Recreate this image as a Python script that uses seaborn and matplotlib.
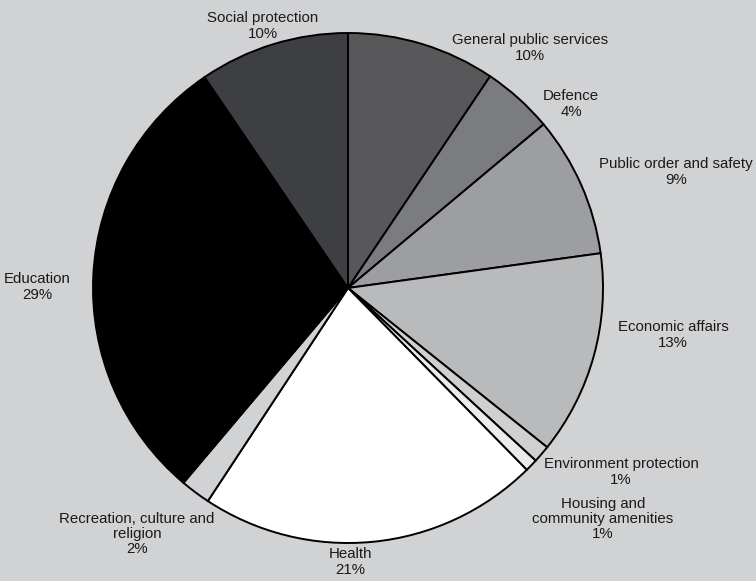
import matplotlib
matplotlib.use("Agg")
import matplotlib.pyplot as plt
import seaborn as sns

# spending shares by function, clockwise from 12 o'clock
categories = ["General public services", "Defence", "Public order and safety",
              "Economic affairs", "Environment protection",
              "Housing and\ncommunity amenities", "Health",
              "Recreation, culture and\nreligion", "Education", "Social protection"]
shares = [9.4, 4.5, 8.9, 12.9, 1.1, 0.8, 21.6, 1.9, 29.3, 9.5]
pct_labels = ["10%", "4%", "9%", "13%", "1%", "1%", "21%", "2%", "29%", "10%"]

colors = ["#58585b", "#7b7c7f", "#9d9ea1", "#b9babc", "#cfd0d2",
          "#ebebec", "#ffffff", "#d1d2d4", "#000000", "#3e3f43"]
# label anchor points in pixels (x, y from top)
label_pos = [(530, 48), (571, 104), (676, 172), (673, 335), (621, 472),
             (603, 519), (350, 562), (137, 534), (37, 287), (263, 26)]

bg = "#d1d2d4"
sns.set_style("white")
plt.rcParams["font.family"] = ["Liberation Sans", "DejaVu Sans"]

W, H = 756, 581
fig = plt.figure(figsize=(W / 100, H / 100), dpi=100, facecolor=bg)
ax = fig.add_axes([0, 0, 1, 1])
ax.set_facecolor(bg)

ax.pie(shares, colors=colors, startangle=90, counterclock=False,
       center=(348, H - 288), radius=255, frame=True,
       wedgeprops=dict(edgecolor="black", linewidth=1.4))
ax.set_xlim(0, W)
ax.set_ylim(0, H)
ax.set_aspect("equal")
ax.axis("off")

for name, pct, (x, y) in zip(categories, pct_labels, label_pos):
    ax.text(x, H - y, name + "\n" + pct, ha="center", va="center",
            fontsize=10.8, color="#1a1a1a", linespacing=1.1)

fig.savefig("out.png", dpi=100, facecolor=bg)
